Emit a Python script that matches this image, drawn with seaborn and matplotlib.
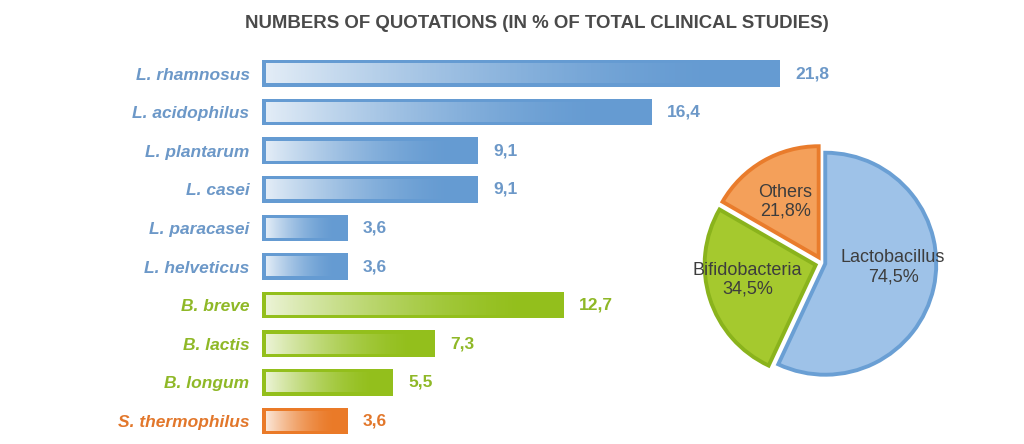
import numpy as np
import pandas as pd
import matplotlib
matplotlib.use("Agg")
import matplotlib.pyplot as plt
import seaborn as sns
from matplotlib.colors import to_rgb

# ---------------- data ----------------
species = ["L. rhamnosus", "L. acidophilus", "L. plantarum", "L. casei",
           "L. paracasei", "L. helveticus", "B. breve", "B. lactis",
           "B. longum", "S. thermophilus"]
values = [21.8, 16.4, 9.1, 9.1, 3.6, 3.6, 12.7, 7.3, 5.5, 3.6]
genus = ["Lactobacillus"] * 6 + ["Bifidobacteria"] * 3 + ["Others"]

pie_labels = ["Lactobacillus", "Bifidobacteria", "Others"]
pie_values = [74.5, 34.5, 21.8]

title = "NUMBERS OF QUOTATIONS (IN % OF TOTAL CLINICAL STUDIES)"

# ---------------- styles ----------------
bar_colors = {"Lactobacillus": "#659bd2", "Bifidobacteria": "#93bf1c", "Others": "#ea7a28"}
text_colors = {"Lactobacillus": "#6c98c8", "Bifidobacteria": "#8fb827", "Others": "#e2772b"}
pie_face = ["#9ec2e8", "#a5c92e", "#f4a05a"]
pie_edge = ["#6a9fd4", "#8ab31c", "#e97c2c"]

sns.set_theme(style="white")
plt.rcParams["font.family"] = ["Liberation Sans", "DejaVu Sans"]

fig = plt.figure(figsize=(10.24, 4.44), dpi=100)
fig.patch.set_facecolor("white")

PX = 23.76  # pixels per unit
ax_left_px, ax_w_px = 262, 594
ax_h_frac = 0.8696
ax = fig.add_axes([ax_left_px / 1024, 0.0083, ax_w_px / 1024, ax_h_frac])
ax.set_facecolor("none")

df = pd.DataFrame({"species": species, "value": values, "genus": genus})
sns.barplot(data=df, x="value", y="species", hue="genus", palette=bar_colors,
            dodge=False, width=0.69, saturation=1, legend=False, ax=ax,
            edgecolor="none", err_kws={"linewidth": 0})

xmax = ax_w_px / PX
ax.set_xlim(0, xmax)
ax.set_ylim(len(species) - 0.5, -0.5)

# gradient overlay inside each bar
ax_h_px = ax_h_frac * 444
dx = 4.0 * xmax / ax_w_px
dy = 3.5 * len(species) / ax_h_px
t = np.linspace(0, 1, 256)
grad = np.zeros((1, 256, 4))
grad[..., :3] = 1.0
grad[0, :, 3] = 0.82 * np.clip(1 - t / 0.9, 0, 1) ** 1.6
for p in list(ax.patches):
    x0, y0, w, h = p.get_x(), p.get_y(), p.get_width(), p.get_height()
    if w <= 0:
        continue
    ax.imshow(grad, extent=(x0 + dx, x0 + w - dx, y0 + h - dy, y0 + dy),
              aspect="auto", interpolation="bicubic", zorder=3)
ax.set_xlim(0, xmax)
ax.set_ylim(len(species) - 0.5, -0.5)

# value labels
for cont in ax.containers:
    fc = None
    for p in cont.patches:
        if p.get_width() > 0:
            fc = p.get_facecolor()
            break
    if fc is None:
        continue
    g = [k for k, v in bar_colors.items() if np.allclose(to_rgb(v), fc[:3], atol=0.01)]
    tc = text_colors[g[0]] if g else "#666666"
    ax.bar_label(cont, fmt=lambda v: (f"{v:.1f}".replace(".", ",") if v > 0 else ""),
                 padding=11, fontsize=12.5, fontweight="bold", color=tc)

# y tick labels
ax.set_yticks(range(len(species)))
ax.set_yticklabels(species)
for lbl, g in zip(ax.get_yticklabels(), genus):
    lbl.set_color(text_colors[g])
    lbl.set_fontweight("bold")
    lbl.set_fontstyle("italic")
    lbl.set_fontsize(12.5)
ax.tick_params(axis="y", length=0, pad=9)
ax.set_xticks([])
ax.set_xlabel("")
ax.set_ylabel("")
for s in ax.spines.values():
    s.set_visible(False)

# title
fig.text(0.524, 0.948, title, ha="center", va="center", fontsize=13.4, fontweight="bold",
         color="#4a4a4a")

# ---------------- pie ----------------
R = 111
cx, cy = 822, 263
size = 2.5 * R
pax = fig.add_axes([(cx - size / 2) / 1024, (444 - cy - size / 2) / 444, size / 1024, size / 444])
wedges, _ = pax.pie(pie_values, startangle=90, counterclock=False,
                    explode=(0.03, 0.06, 0.06), colors=pie_face,
                    wedgeprops={"linewidth": 2.8})
for w, ec in zip(wedges, pie_edge):
    w.set_edgecolor(ec)
pax.set_xlim(-1.25, 1.25)
pax.set_ylim(-1.25, 1.25)
pax.set_aspect("equal")
pax.axis("off")

label_pos = [(0.64, -0.04), (-0.67, -0.15), (-0.33, 0.55)]
for name, v, (tx, ty) in zip(pie_labels, pie_values, label_pos):
    pax.text(tx, ty, f"{name}\n{v:.1f}%".replace(".", ","), ha="center", va="center",
             fontsize=13, color="#3d3d3d", linespacing=1.15)

fig.savefig("out.png", dpi=100, facecolor="white")
